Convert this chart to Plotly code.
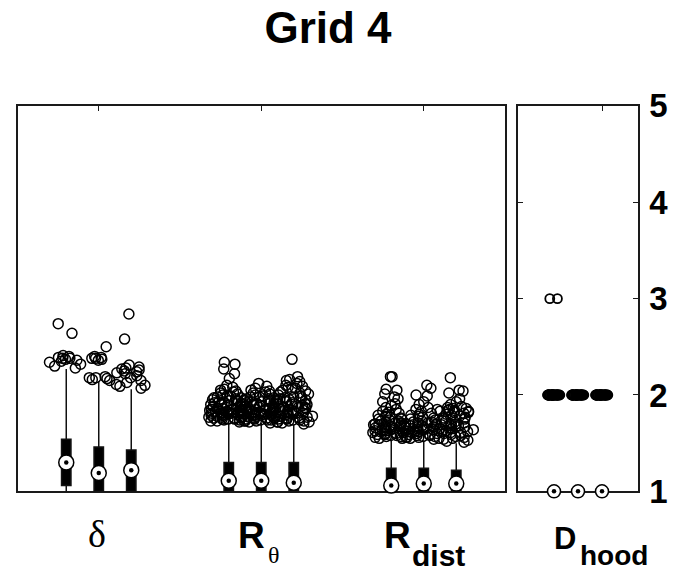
import plotly.graph_objects as go

W, H = 673, 573

# ---------------- data ----------------
title_text = "Grid 4"
label_main = ["δ", "R", "R", "D"]
label_sub = ["", "θ", "dist", "hood"]
y_ticks = [1, 2, 3, 4, 5]

# delta group: three boxes
delta_q1 = [1.06, 1.00, 1.00]
delta_med = [1.30, 1.19, 1.22]
delta_q3 = [1.54, 1.46, 1.43]
delta_lo = [1.00, 1.00, 1.00]
delta_hi = [2.27, 2.14, 2.06]
delta_out_1 = [2.74, 2.64, 2.41, 2.40, 2.39, 2.38, 2.38, 2.37, 2.36, 2.35, 2.34, 2.32, 2.30, 2.28]
delta_out_2 = [2.50, 2.40, 2.39, 2.38, 2.38, 2.37, 2.36, 2.19, 2.18, 2.18, 2.17, 2.16, 2.15]
delta_out_3 = [2.84, 2.58, 2.31, 2.29, 2.28, 2.27, 2.26, 2.25, 2.24, 2.23, 2.22, 2.20, 2.18,
               2.15, 2.13, 2.11, 2.10, 2.09, 2.07]

# R_theta group
rtheta_q1 = [1.00, 1.00, 1.00]
rtheta_med = [1.11, 1.11, 1.09]
rtheta_q3 = [1.30, 1.30, 1.30]
rtheta_lo = [1.00, 1.00, 1.00]
rtheta_hi = [1.72, 1.71, 1.69]
rtheta_out_1 = [2.34, 2.32, 2.27, 2.22, 2.17, 2.10, 2.08, 2.06, 2.05, 2.04, 2.03, 2.02, 2.01,
                2.00, 1.99, 1.99, 1.98, 1.97, 1.97, 1.96, 1.95, 1.95, 1.94, 1.94, 1.93, 1.93,
                1.92, 1.92, 1.91, 1.91, 1.90, 1.90, 1.89, 1.89, 1.88, 1.88, 1.87, 1.87, 1.86,
                1.86, 1.85, 1.85, 1.85, 1.84, 1.84, 1.83, 1.83, 1.83, 1.82, 1.82, 1.81, 1.81,
                1.81, 1.80, 1.80, 1.79, 1.79, 1.79, 1.78, 1.78, 1.77, 1.77, 1.77, 1.76, 1.76,
                1.75, 1.75, 1.75, 1.74, 1.74, 1.73, 1.73, 1.73, 1.72]
rtheta_out_2 = [2.12, 2.09, 2.07, 2.05, 2.04, 2.03, 2.02, 2.01, 2.00, 1.99, 1.98, 1.98, 1.97,
                1.96, 1.96, 1.95, 1.94, 1.94, 1.93, 1.93, 1.92, 1.92, 1.91, 1.91, 1.90, 1.90,
                1.89, 1.89, 1.88, 1.88, 1.87, 1.87, 1.86, 1.86, 1.85, 1.85, 1.84, 1.84, 1.84,
                1.83, 1.83, 1.82, 1.82, 1.82, 1.81, 1.81, 1.80, 1.80, 1.80, 1.79, 1.79, 1.78,
                1.78, 1.78, 1.77, 1.77, 1.76, 1.76, 1.76, 1.75, 1.75, 1.74, 1.74, 1.74, 1.73,
                1.73, 1.72, 1.72, 1.71]
rtheta_out_3 = [2.37, 2.19, 2.16, 2.15, 2.14, 2.12, 2.10, 2.09, 2.08, 2.07, 2.06, 2.05, 2.04,
                2.03, 2.02, 2.01, 2.00, 1.99, 1.98, 1.97, 1.97, 1.96, 1.95, 1.95, 1.94, 1.93,
                1.93, 1.92, 1.91, 1.91, 1.90, 1.90, 1.89, 1.88, 1.88, 1.87, 1.87, 1.86, 1.86,
                1.85, 1.85, 1.84, 1.84, 1.83, 1.83, 1.82, 1.82, 1.81, 1.81, 1.80, 1.80, 1.79,
                1.79, 1.78, 1.78, 1.77, 1.77, 1.76, 1.76, 1.75, 1.75, 1.74, 1.74, 1.73, 1.73,
                1.72, 1.72, 1.71, 1.70]

# R_dist group
rdist_q1 = [1.00, 1.00, 1.00]
rdist_med = [1.06, 1.08, 1.08]
rdist_q3 = [1.24, 1.24, 1.22]
rdist_lo = [1.00, 1.00, 1.00]
rdist_hi = [1.54, 1.53, 1.50]
rdist_out_1 = [2.19, 2.19, 2.06, 2.05, 2.01, 1.98, 1.96, 1.93, 1.91, 1.89, 1.87, 1.85, 1.83,
               1.82, 1.81, 1.80, 1.79, 1.78, 1.77, 1.76, 1.75, 1.75, 1.74, 1.73, 1.73, 1.72,
               1.71, 1.71, 1.70, 1.70, 1.69, 1.69, 1.68, 1.68, 1.67, 1.67, 1.66, 1.66, 1.65,
               1.65, 1.64, 1.64, 1.63, 1.63, 1.62, 1.62, 1.61, 1.61, 1.60, 1.60, 1.59, 1.59,
               1.58, 1.58, 1.57, 1.57, 1.56, 1.56, 1.55, 1.55]
rdist_out_2 = [2.10, 2.07, 2.00, 1.99, 1.93, 1.90, 1.87, 1.85, 1.83, 1.81, 1.80, 1.79, 1.78,
               1.77, 1.76, 1.75, 1.74, 1.73, 1.72, 1.72, 1.71, 1.71, 1.70, 1.70, 1.69, 1.69,
               1.68, 1.68, 1.67, 1.67, 1.66, 1.66, 1.65, 1.65, 1.64, 1.64, 1.63, 1.63, 1.62,
               1.62, 1.61, 1.61, 1.60, 1.60, 1.59, 1.59, 1.58, 1.58, 1.57, 1.57, 1.56, 1.56,
               1.55, 1.55, 1.54]
rdist_out_3 = [2.18, 2.05, 2.04, 2.02, 1.96, 1.93, 1.90, 1.88, 1.87, 1.86, 1.86, 1.85, 1.85,
               1.84, 1.84, 1.83, 1.83, 1.82, 1.82, 1.81, 1.80, 1.79, 1.78, 1.77, 1.76, 1.75,
               1.74, 1.73, 1.72, 1.71, 1.70, 1.70, 1.69, 1.68, 1.68, 1.67, 1.67, 1.66, 1.65,
               1.65, 1.64, 1.63, 1.63, 1.62, 1.61, 1.61, 1.60, 1.59, 1.58, 1.57, 1.56, 1.55,
               1.54, 1.53, 1.52, 1.51]

# D_hood group (right panel)
dhood_q1 = [1.00, 1.00, 1.00]
dhood_med = [1.00, 1.00, 1.00]
dhood_q3 = [1.00, 1.00, 1.00]
dhood_lo = [1.00, 1.00, 1.00]
dhood_hi = [1.00, 1.00, 1.00]
dhood_out_1 = [2.0, 2.0, 2.0, 2.0, 2.0, 2.0, 2.0, 2.0, 2.0, 2.0, 2.0, 2.0, 2.0, 2.0, 2.0,
               2.0, 2.0, 2.0, 2.0, 2.0, 2.0, 2.0, 2.0, 2.0, 2.0, 2.0, 2.0, 2.0, 2.0, 2.0]
dhood_out_1_high = [3.0, 3.0]
dhood_out_2 = [2.0, 2.0, 2.0, 2.0, 2.0, 2.0, 2.0, 2.0, 2.0, 2.0, 2.0, 2.0, 2.0, 2.0, 2.0,
               2.0, 2.0, 2.0, 2.0, 2.0, 2.0, 2.0, 2.0, 2.0, 2.0, 2.0, 2.0, 2.0, 2.0, 2.0]
dhood_out_3 = [2.0, 2.0, 2.0, 2.0, 2.0, 2.0, 2.0, 2.0, 2.0, 2.0, 2.0, 2.0, 2.0, 2.0, 2.0,
               2.0, 2.0, 2.0, 2.0, 2.0, 2.0, 2.0, 2.0, 2.0, 2.0, 2.0, 2.0, 2.0, 2.0, 2.0]

# ---------------- figure ----------------
left_groups = [
    (delta_q1, delta_med, delta_q3, delta_lo, delta_hi, [[delta_out_1], [delta_out_2], [delta_out_3]]),
    (rtheta_q1, rtheta_med, rtheta_q3, rtheta_lo, rtheta_hi, [[rtheta_out_1], [rtheta_out_2], [rtheta_out_3]]),
    (rdist_q1, rdist_med, rdist_q3, rdist_lo, rdist_hi, [[rdist_out_1], [rdist_out_2], [rdist_out_3]]),
]
right_groups = [
    (dhood_q1, dhood_med, dhood_q3, dhood_lo, dhood_hi,
     [[dhood_out_1, dhood_out_1_high], [dhood_out_2], [dhood_out_3]]),
]
offsets = [-0.2, 0.0, 0.2]

fig = go.Figure()


def add_group(center, grp, xa, ya, box_w, cloud_w, out_size, out_lw, med_size):
    q1, med, q3, lo, hi, outs = grp
    xs = []
    for k in range(3):
        pos = center + offsets[k]
        xs.append(pos)
        fig.add_trace(go.Box(
            x=[pos], q1=[q1[k]], median=[med[k]], q3=[q3[k]],
            lowerfence=[lo[k]], upperfence=[hi[k]], orientation="v",
            width=box_w, fillcolor="black", line=dict(color="#111111", width=1.5),
            whiskerwidth=0, boxpoints=False, xaxis=xa, yaxis=ya,
            showlegend=False, hoverinfo="skip"))
        for vals in outs[k]:
            fig.add_trace(go.Box(
                y=vals, x0=pos, orientation="v", width=cloud_w,
                boxpoints="all", jitter=1, pointpos=0,
                fillcolor="rgba(0,0,0,0)", line=dict(color="rgba(0,0,0,0)", width=0),
                marker=dict(symbol="circle-open", size=out_size, color="black",
                            line=dict(width=out_lw)),
                xaxis=xa, yaxis=ya, showlegend=False, hoverinfo="skip"))
    fig.add_trace(go.Scatter(
        x=xs, y=med, mode="markers", xaxis=xa, yaxis=ya, cliponaxis=False,
        marker=dict(symbol="circle", size=med_size, color="white",
                    line=dict(color="black", width=1.5)),
        showlegend=False, hoverinfo="skip"))
    fig.add_trace(go.Scatter(
        x=xs, y=med, mode="markers", xaxis=xa, yaxis=ya, cliponaxis=False,
        marker=dict(symbol="circle", size=4.5, color="black"),
        showlegend=False, hoverinfo="skip"))


for g, grp in enumerate(left_groups):
    add_group(g + 1, grp, "x", "y", 0.058, 0.26, 10, 1.5, 15)
for g, grp in enumerate(right_groups):
    add_group(g + 1, grp, "x2", "y2", 0.08, 0.11, 9, 1.8, 13)


def ypx(p):
    return 1 - p / H


ydom = [ypx(506), ypx(94)]
axis_line = dict(showline=True, linecolor="#1a1a1a", linewidth=1.5, mirror="ticks",
                 showgrid=False, zeroline=False, ticks="inside", ticklen=5,
                 tickcolor="#1a1a1a", tickwidth=1, layer="below traces")

fig.update_layout(
    width=W, height=H,
    margin=dict(l=0, r=0, t=0, b=0),
    paper_bgcolor="white", plot_bgcolor="white",
    boxmode="overlay",
    font=dict(family="Liberation Sans, Arial, sans-serif", color="black"),
    title=dict(text=title_text, x=328 / W, xanchor="center", xref="paper",
               y=1 - 28 / H, yanchor="middle", yref="container",
               font=dict(size=44, weight="bold", color="black",
                         family="Liberation Sans, Arial, sans-serif")),
    xaxis=dict(domain=[17.5 / W, 505 / W], range=[0.5, 3.5], tickvals=[1, 2, 3],
               showticklabels=False, anchor="y", **axis_line),
    yaxis=dict(domain=ydom, range=[1, 5], tickvals=y_ticks, showticklabels=False,
               anchor="x", **{**axis_line, "ticks": ""}),
    xaxis2=dict(domain=[518 / W, 638 / W], range=[0.5, 1.5], tickvals=[1.2],
                showticklabels=False, anchor="y2", **axis_line),
    yaxis2=dict(domain=ydom, range=[1, 5], tickvals=y_ticks, side="right",
                anchor="x2", ticklabelstandoff=3,
                tickfont=dict(size=33, weight="bold", color="black",
                              family="Liberation Sans, Arial, sans-serif"),
                **axis_line),
)

# category labels (main symbol + subscript), placed relative to group centres
sans = "Liberation Sans, Arial, sans-serif"
serif = "Liberation Serif, Times New Roman, serif"
ann = []
# delta
ann.append(dict(text=label_main[0], x=1, xref="x", xshift=-1.5, xanchor="center",
                y=ypx(552), yref="paper", yanchor="middle", showarrow=False, borderpad=0,
                font=dict(size=38, family=serif, color="black")))
# R theta
ann.append(dict(text=label_main[1], x=2, xref="x", xshift=5, xanchor="right",
                y=ypx(553), yref="paper", yanchor="middle", showarrow=False, borderpad=0,
                font=dict(size=37, family=sans, weight="bold", color="black")))
ann.append(dict(text=label_sub[1], x=2, xref="x", xshift=6, xanchor="left",
                y=ypx(574), yref="paper", yanchor="middle", showarrow=False, borderpad=0,
                font=dict(size=24, family=serif, color="black")))
# R dist
ann.append(dict(text=label_main[2], x=3, xref="x", xshift=-12, xanchor="right",
                y=ypx(553), yref="paper", yanchor="middle", showarrow=False, borderpad=0,
                font=dict(size=37, family=sans, weight="bold", color="black")))
ann.append(dict(text=label_sub[2], x=3, xref="x", xshift=-13, xanchor="left",
                y=ypx(575), yref="paper", yanchor="middle", showarrow=False, borderpad=0,
                font=dict(size=30, family=sans, weight="bold", color="black")))
# D hood
ann.append(dict(text=label_main[3], x=1, xref="x2", xshift=-1, xanchor="right",
                y=ypx(556), yref="paper", yanchor="middle", showarrow=False, borderpad=0,
                font=dict(size=31, family=sans, weight="bold", color="black")))
ann.append(dict(text=label_sub[3], x=1, xref="x2", xshift=1, xanchor="left",
                y=ypx(575), yref="paper", yanchor="middle", showarrow=False, borderpad=0,
                font=dict(size=28, family=sans, weight="bold", color="black")))
fig.update_layout(annotations=ann)

fig.write_html("out.html")
